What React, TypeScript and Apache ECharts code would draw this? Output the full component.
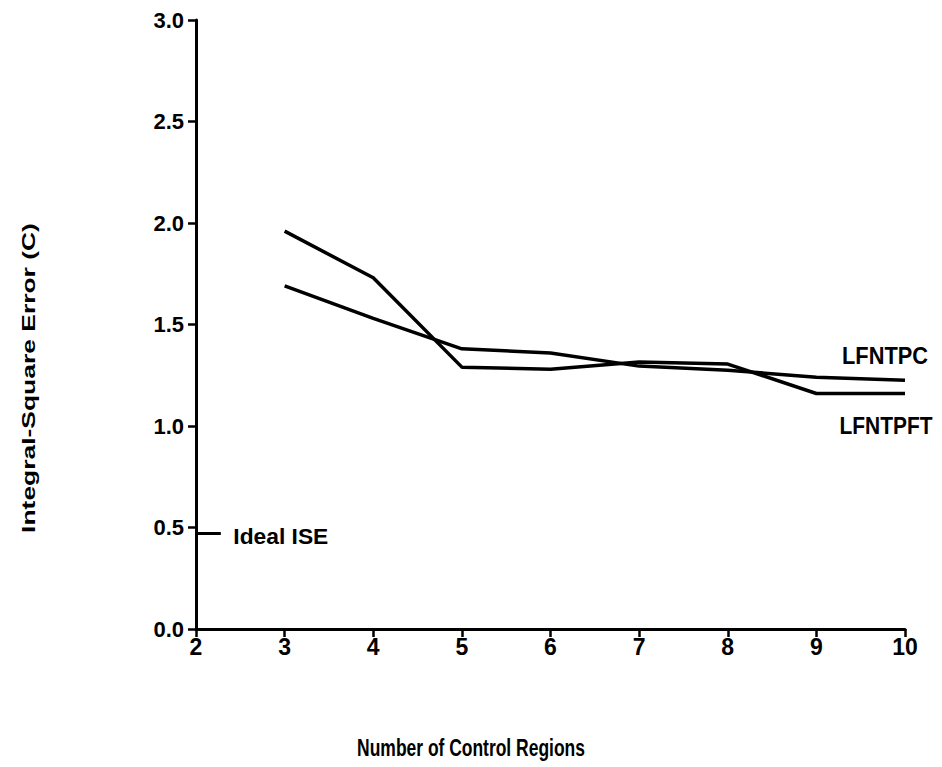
import React, { useEffect, useRef } from "react";
import * as echarts from "echarts";

const regions = [3, 4, 5, 6, 7, 8, 9, 10];
const lfntpft = [1.96, 1.73, 1.29, 1.28, 1.315, 1.305, 1.16, 1.16];
const lfntpc = [1.69, 1.53, 1.38, 1.36, 1.295, 1.275, 1.24, 1.225];
const idealX = [2, 2.28];
const idealISE = 0.47;
const yTicks = [0, 0.5, 1.0, 1.5, 2.0, 2.5, 3.0];
const xTicks = [2, 3, 4, 5, 6, 7, 8, 9, 10];

const FONT = "'Liberation Sans', Arial, Helvetica, sans-serif";

function measure(text: string, size: number, weight: string): number {
  const c = document.createElement("canvas").getContext("2d");
  if (!c) return text.length * size * 0.55;
  c.font = `${weight} ${size}px ${FONT}`;
  return c.measureText(text).width;
}

export default function App() {
  const ref = useRef<HTMLDivElement>(null);
  useEffect(() => {
    if (!ref.current) return;
    const chart = echarts.init(ref.current, null, { renderer: "svg" });
    const lineStyle = { color: "#000", width: 3.5 };
    chart.setOption({
      animation: false,
      backgroundColor: "#fff",
      grid: { left: 196, right: 37, top: 20, bottom: 138, containLabel: false },
      xAxis: {
        type: "value",
        min: xTicks[0],
        max: xTicks[xTicks.length - 1],
        interval: 1,
        splitLine: { show: false },
        axisLine: { lineStyle: { color: "#000", width: 3 } },
        axisTick: { show: true, length: 8, lineStyle: { color: "#000", width: 2.5 } },
        axisLabel: {
          color: "#000",
          fontFamily: FONT,
          fontWeight: "bold",
          fontSize: 23,
          margin: 6,
        },
      },
      yAxis: {
        type: "value",
        min: yTicks[0],
        max: yTicks[yTicks.length - 1],
        interval: 0.5,
        splitLine: { show: false },
        axisLine: { show: true, lineStyle: { color: "#000", width: 3 } },
        axisTick: { show: true, length: 8, lineStyle: { color: "#000", width: 2.5 } },
        axisLabel: {
          color: "#000",
          fontFamily: FONT,
          fontWeight: "bold",
          fontSize: 22,
          margin: 12,
          formatter: (v: number) => v.toFixed(1),
        },
      },
      series: [
        {
          name: "LFNTPFT",
          type: "line",
          symbol: "none",
          lineStyle,
          data: regions.map((r, i) => [r, lfntpft[i]]),
        },
        {
          name: "LFNTPC",
          type: "line",
          symbol: "none",
          lineStyle,
          data: regions.map((r, i) => [r, lfntpc[i]]),
        },
        {
          name: "Ideal ISE",
          type: "line",
          symbol: "none",
          lineStyle: { color: "#000", width: 3 },
          data: idealX.map((x) => [x, idealISE]),
        },
      ],
    });

    const last = regions.length - 1;
    const pcEnd = chart.convertToPixel({ gridIndex: 0 }, [regions[last], lfntpc[last]]) as number[];
    const pftEnd = chart.convertToPixel({ gridIndex: 0 }, [regions[last], lfntpft[last]]) as number[];
    const idealPt = chart.convertToPixel({ gridIndex: 0 }, [idealX[1], idealISE]) as number[];

    const fitted = (
      text: string,
      size: number,
      targetW: number,
      x: number,
      y: number,
      scaleY: number,
      rotation = 0,
      weight = "bold"
    ) => {
      const w = measure(text, size, weight);
      return {
        type: "text",
        x,
        y,
        rotation,
        scaleX: targetW / w,
        scaleY,
        style: {
          text,
          fill: "#000",
          fontFamily: FONT,
          fontWeight: weight,
          fontSize: size,
          align: "center",
          verticalAlign: "middle",
        },
      };
    };

    chart.setOption({
      graphic: [
        fitted("LFNTPC", 20, 86, pcEnd[0] - 20, pcEnd[1] - 24, 1.15),
        fitted("LFNTPFT", 20, 93, pftEnd[0] - 19, pftEnd[1] + 33, 1.15),
        fitted("Ideal ISE", 20, 95, idealPt[0] + 60, idealPt[1] + 3, 1.1),
        fitted("Integral-Square Error (C)", 18, 310, 28, 378, 1.05, Math.PI / 2),
        fitted("Number of Control Regions", 17, 228, 471, 747, 1.4),
      ],
    });

    return () => chart.dispose();
  }, []);
  return (
    <div
      ref={ref}
      style={{ position: "absolute", left: 0, top: 0, width: 942, height: 767 }}
    />
  );
}
